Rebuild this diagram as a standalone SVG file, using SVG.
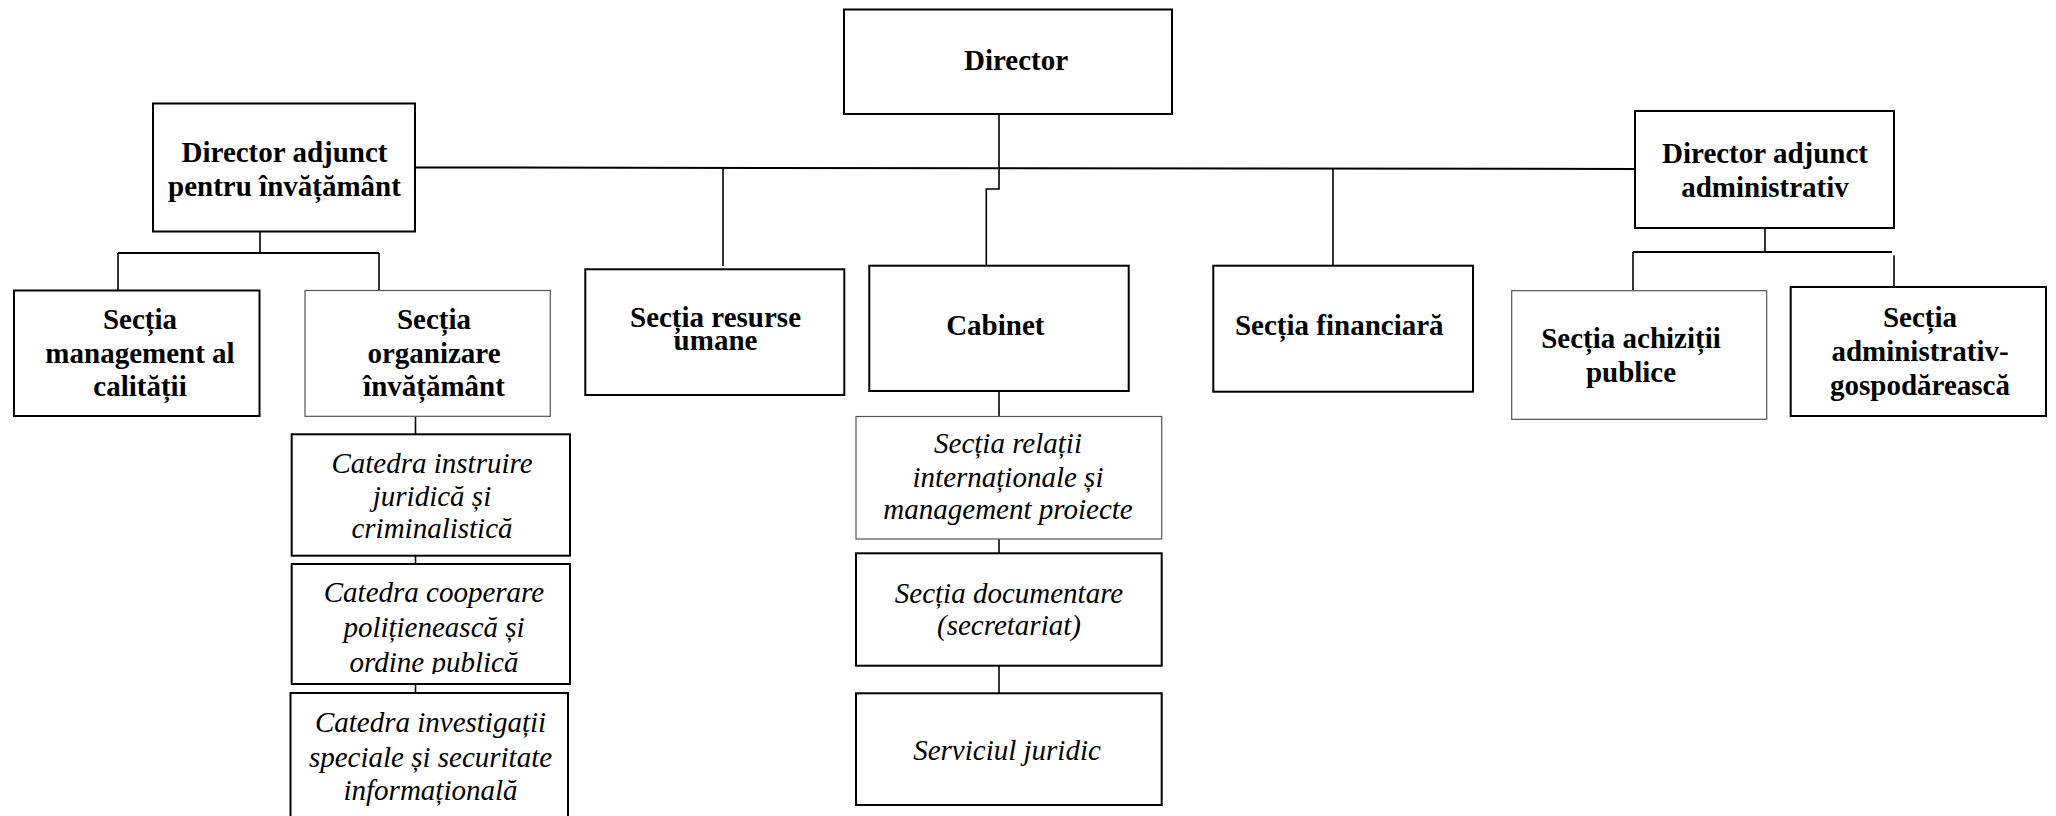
<svg xmlns="http://www.w3.org/2000/svg" width="2056" height="816" viewBox="0 0 2056 816">
<style>
.bx{fill:#fff;stroke:#000;stroke-width:2}
.thin{fill:#fff;stroke:#555;stroke-width:1.2}
.b{font-family:"Liberation Serif","Times New Roman",serif;font-weight:bold;font-size:29px;text-anchor:middle;fill:#000}
.i{font-family:"Liberation Serif","Times New Roman",serif;font-style:italic;font-size:29px;text-anchor:middle;fill:#000}
.ln{fill:none;stroke:#000;stroke-width:1.6}
</style>
<defs>
<clipPath id="c2"><rect x="291" y="564" width="280" height="110"/></clipPath>
</defs>
<rect width="2056" height="816" fill="#fff"/>
<g id="connectors">
<path class="ln" d="M415,167.5 L1635,169" style="stroke-width:2"/>
<path class="ln" d="M999,114 V189 H986.3 V266"/>
<path class="ln" d="M723,168 V266"/>
<path class="ln" d="M1333,168.5 V266"/>
<path class="ln" d="M260,232 V253"/>
<path class="ln" d="M118,253 H379" style="stroke-width:2"/>
<path class="ln" d="M118,253 V290"/>
<path class="ln" d="M379,253 V290"/>
<path class="ln" d="M1765,228 V252"/>
<path class="ln" d="M1633,252 H1892" style="stroke-width:2"/>
<path class="ln" d="M1633,252 V290"/>
<path class="ln" d="M1894,255.5 V287"/>
<path class="ln" d="M415.5,416 V434"/>
<path class="ln" d="M415.5,556 V564"/>
<path class="ln" d="M415.5,684 V693"/>
<path class="ln" d="M999,391 V416"/>
<path class="ln" d="M999,539 V553"/>
<path class="ln" d="M999,666 V693"/>
</g>
<g id="director">
<rect class="bx" x="844" y="9.5" width="328" height="104.5"/>
<text class="b" x="1016" y="70">Director</text>
</g>
<g id="da-invatamant">
<rect class="bx" x="153" y="103.5" width="262" height="128"/>
<text class="b" x="284.5" y="162">Director adjunct</text>
<text class="b" x="284.5" y="196">pentru învățământ</text>
</g>
<g id="da-administrativ">
<rect class="bx" x="1635" y="111" width="259" height="117"/>
<text class="b" x="1765" y="162.5">Director adjunct</text>
<text class="b" x="1765" y="196.5">administrativ</text>
</g>
<g id="sectia-management">
<rect class="bx" x="14" y="290.5" width="245.5" height="125.5"/>
<text class="b" x="140" y="329">Secția</text>
<text class="b" x="140" y="363">management al</text>
<text class="b" x="140" y="396">calității</text>
</g>
<g id="sectia-organizare">
<rect class="thin" x="305" y="290.5" width="245.3" height="125.8"/>
<text class="b" x="434" y="329">Secția</text>
<text class="b" x="434" y="363">organizare</text>
<text class="b" x="434" y="396">învățământ</text>
</g>
<g id="sectia-resurse">
<rect class="bx" x="585.3" y="269.3" width="259" height="125.7"/>
<text class="b" x="715.5" y="326.7">Secția resurse</text>
<text class="b" x="715.5" y="350">umane</text>
</g>
<g id="cabinet">
<rect class="bx" x="869.3" y="265.7" width="259.4" height="125.3"/>
<text class="b" x="995.3" y="335">Cabinet</text>
</g>
<g id="sectia-financiara">
<rect class="bx" x="1213.3" y="265.7" width="259.7" height="126"/>
<text class="b" x="1339.3" y="335">Secția financiară</text>
</g>
<g id="sectia-achizitii">
<rect class="thin" x="1511.7" y="290.7" width="255" height="128.6"/>
<text class="b" x="1631" y="348.3">Secția achiziții</text>
<text class="b" x="1631" y="382">publice</text>
</g>
<g id="sectia-administrativ">
<rect class="bx" x="1790.7" y="287" width="255.3" height="129"/>
<text class="b" x="1920" y="327">Secția</text>
<text class="b" x="1920" y="361">administrativ-</text>
<text class="b" x="1920" y="395">gospodărească</text>
</g>
<g id="catedra-instruire">
<rect class="bx" x="291.7" y="434.3" width="278.3" height="121.4"/>
<text class="i" x="432" y="472.7">Catedra instruire</text>
<text class="i" x="432" y="506">juridică și</text>
<text class="i" x="432" y="538.3">criminalistică</text>
</g>
<g id="catedra-cooperare">
<rect class="bx" x="291.7" y="564" width="278.3" height="120"/>
<g clip-path="url(#c2)">
<text class="i" x="434" y="602.3">Catedra cooperare</text>
<text class="i" x="434" y="636.7">polițienească și</text>
<text class="i" x="434" y="671.7">ordine publică</text>
</g>
</g>
<g id="catedra-investigatii">
<rect class="bx" x="290.5" y="693" width="277.5" height="130"/>
<text class="i" x="430.5" y="731.7">Catedra investigații</text>
<text class="i" x="430.5" y="766.7">speciale și securitate</text>
<text class="i" x="430.5" y="800">informațională</text>
</g>
<g id="sectia-relatii">
<rect class="thin" x="856" y="416.5" width="305.7" height="122.5"/>
<text class="i" x="1008" y="453.3">Secția relații</text>
<text class="i" x="1008" y="487.3">internaționale și</text>
<text class="i" x="1008" y="519">management proiecte</text>
</g>
<g id="sectia-documentare">
<rect class="bx" x="856" y="553.3" width="305.7" height="112.4"/>
<text class="i" x="1009" y="602.7">Secția documentare</text>
<text class="i" x="1009" y="635">(secretariat)</text>
</g>
<g id="serviciul-juridic">
<rect class="bx" x="856" y="693.3" width="305.7" height="111.7"/>
<text class="i" x="1007" y="760">Serviciul juridic</text>
</g>
</svg>
